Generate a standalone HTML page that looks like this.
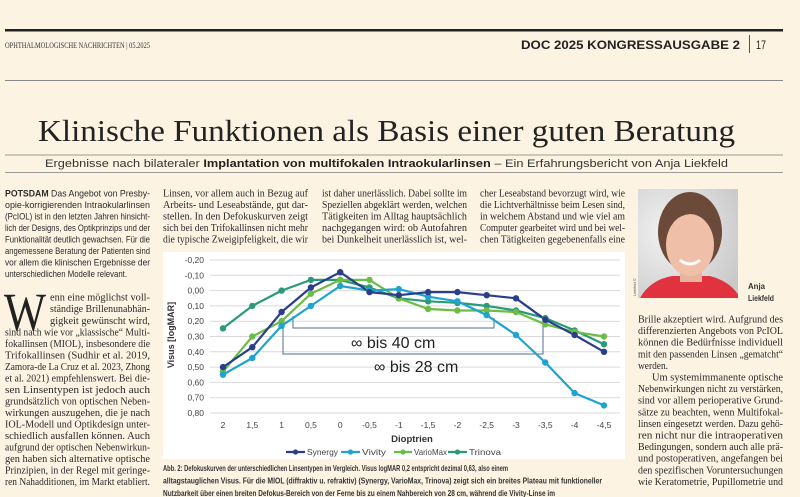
<!DOCTYPE html>
<html><head><meta charset="utf-8"><style>
html,body{margin:0;padding:0;background:#fdf3e3;}
svg{display:block}
.s{font-family:"Liberation Serif",serif;font-size:10px;fill:#2a2a2a}
.a{font-family:"Liberation Sans",sans-serif;font-size:9.5px;fill:#2a2a2a}
.c{font-family:"Liberation Sans",sans-serif;font-size:8.5px;font-weight:bold;fill:#333}
.t{font-family:"Liberation Sans",sans-serif;font-size:8.5px;fill:#444}
</style></head><body>
<svg width="800" height="497" viewBox="0 0 800 497" xmlns="http://www.w3.org/2000/svg">
<rect width="800" height="497" fill="#fdf3e3"/>
<!-- header -->
<rect x="5" y="29" width="778" height="2.5" fill="#222"/>
<text x="5" y="48" font-family="Liberation Serif,serif" font-size="8" fill="#333" textLength="145" lengthAdjust="spacingAndGlyphs">OPHTHALMOLOGISCHE NACHRICHTEN  |  05.2025</text>
<text x="521" y="49" font-family="Liberation Sans,sans-serif" font-size="11.5" font-weight="bold" fill="#222" textLength="219" lengthAdjust="spacingAndGlyphs">DOC 2025 KONGRESSAUSGABE 2</text>
<rect x="749" y="35" width="1" height="18" fill="#555"/>
<text x="756" y="49" font-family="Liberation Sans,sans-serif" font-size="11.5" fill="#222" textLength="10" lengthAdjust="spacingAndGlyphs">17</text>
<rect x="5" y="80" width="778" height="1" fill="#888"/>
<!-- title -->
<text x="38" y="141" font-family="Liberation Serif,serif" font-size="31" fill="#222" textLength="697" lengthAdjust="spacingAndGlyphs">Klinische Funktionen als Basis einer guten Beratung</text>
<rect x="5" y="154.5" width="778" height="1" fill="#999"/>
<text x="45" y="167" font-family="Liberation Sans,sans-serif" font-size="11" fill="#333" textLength="683" lengthAdjust="spacingAndGlyphs">Ergebnisse nach bilateraler <tspan font-weight="bold" fill="#222">Implantation von multifokalen Intraokularlinsen</tspan> – Ein Erfahrungsbericht von Anja Liekfeld</text>
<rect x="5" y="172" width="778" height="1" fill="#999"/>

<!-- col1 intro -->
<g class="a">
<text x="5" y="196.5" textLength="145" lengthAdjust="spacingAndGlyphs"><tspan font-weight="bold">POTSDAM</tspan>  Das Angebot von Presby-</text>
<text x="5" y="208" textLength="145" lengthAdjust="spacingAndGlyphs">opie-korrigierenden  Intraokularlinsen</text>
<text x="5" y="219.5" textLength="145" lengthAdjust="spacingAndGlyphs">(PcIOL) ist in den letzten Jahren hinsicht-</text>
<text x="5" y="231" textLength="145" lengthAdjust="spacingAndGlyphs">lich der Designs, des Optikprinzips und der</text>
<text x="5" y="242.5" textLength="145" lengthAdjust="spacingAndGlyphs">Funktionalität deutlich gewachsen. Für die</text>
<text x="5" y="254" textLength="145" lengthAdjust="spacingAndGlyphs">angemessene Beratung der Patienten sind</text>
<text x="5" y="265.5" textLength="145" lengthAdjust="spacingAndGlyphs">vor allem die klinischen Ergebnisse der</text>
<text x="5" y="277" textLength="122" lengthAdjust="spacingAndGlyphs">unterschiedlichen Modelle relevant.</text>
</g>
<!-- col1 body -->
<text x="4" y="330" font-family="Liberation Serif,serif" font-size="54" fill="#222" textLength="42" lengthAdjust="spacingAndGlyphs">W</text>
<g class="s">
<text x="50" y="300.5" textLength="100" lengthAdjust="spacingAndGlyphs">enn eine möglichst voll-</text>
<text x="50" y="312" textLength="100" lengthAdjust="spacingAndGlyphs">ständige Brillenunabhän-</text>
<text x="50" y="324" textLength="100" lengthAdjust="spacingAndGlyphs">gigkeit gewünscht wird,</text>
<text x="5" y="335.5" textLength="145" lengthAdjust="spacingAndGlyphs">sind nach wie vor „klassische“ Multi-</text>
<text x="5" y="347" textLength="145" lengthAdjust="spacingAndGlyphs">fokallinsen (MIOL), insbesondere die</text>
<text x="5" y="358.5" textLength="145" lengthAdjust="spacingAndGlyphs">Trifokallinsen (Sudhir et al. 2019,</text>
<text x="5" y="370" textLength="145" lengthAdjust="spacingAndGlyphs">Zamora-de La Cruz et al. 2023, Zhong</text>
<text x="5" y="381.5" textLength="145" lengthAdjust="spacingAndGlyphs">et al. 2021) empfehlenswert. Bei die-</text>
<text x="5" y="393" textLength="145" lengthAdjust="spacingAndGlyphs">sen  Linsentypen  ist  jedoch  auch</text>
<text x="5" y="404.5" textLength="145" lengthAdjust="spacingAndGlyphs">grundsätzlich von optischen Neben-</text>
<text x="5" y="416" textLength="145" lengthAdjust="spacingAndGlyphs">wirkungen auszugehen, die je nach</text>
<text x="5" y="427.5" textLength="145" lengthAdjust="spacingAndGlyphs">IOL-Modell und Optikdesign unter-</text>
<text x="5" y="439" textLength="145" lengthAdjust="spacingAndGlyphs">schiedlich ausfallen können. Auch</text>
<text x="5" y="450.5" textLength="145" lengthAdjust="spacingAndGlyphs">aufgrund der optischen Nebenwirkun-</text>
<text x="5" y="462" textLength="145" lengthAdjust="spacingAndGlyphs">gen haben sich alternative optische</text>
<text x="5" y="473.5" textLength="145" lengthAdjust="spacingAndGlyphs">Prinzipien, in der Regel mit geringe-</text>
<text x="5" y="485" textLength="145" lengthAdjust="spacingAndGlyphs">ren Nahadditionen, im Markt etabliert.</text>
</g>
<!-- top columns -->
<g class="s">
<text x="163" y="196.5" textLength="145" lengthAdjust="spacingAndGlyphs">Linsen, vor allem auch in Bezug auf</text>
<text x="163" y="208" textLength="145" lengthAdjust="spacingAndGlyphs">Arbeits- und Leseabstände, gut dar-</text>
<text x="163" y="219.5" textLength="145" lengthAdjust="spacingAndGlyphs">stellen. In den Defokuskurven zeigt</text>
<text x="163" y="231" textLength="145" lengthAdjust="spacingAndGlyphs">sich bei den Trifokallinsen nicht mehr</text>
<text x="163" y="242.5" textLength="145" lengthAdjust="spacingAndGlyphs">die typische Zweigipfeligkeit, die wir</text>
<text x="322" y="196.5" textLength="145" lengthAdjust="spacingAndGlyphs">ist daher unerlässlich. Dabei sollte im</text>
<text x="322" y="208" textLength="145" lengthAdjust="spacingAndGlyphs">Speziellen abgeklärt werden, welchen</text>
<text x="322" y="219.5" textLength="145" lengthAdjust="spacingAndGlyphs">Tätigkeiten im Alltag hauptsächlich</text>
<text x="322" y="231" textLength="145" lengthAdjust="spacingAndGlyphs">nachgegangen wird: ob Autofahren</text>
<text x="322" y="242.5" textLength="145" lengthAdjust="spacingAndGlyphs">bei Dunkelheit unerlässlich ist, wel-</text>
<text x="480" y="196.5" textLength="145" lengthAdjust="spacingAndGlyphs">cher Leseabstand bevorzugt wird, wie</text>
<text x="480" y="208" textLength="145" lengthAdjust="spacingAndGlyphs">die Lichtverhältnisse beim Lesen sind,</text>
<text x="480" y="219.5" textLength="145" lengthAdjust="spacingAndGlyphs">in welchem Abstand und wie viel am</text>
<text x="480" y="231" textLength="145" lengthAdjust="spacingAndGlyphs">Computer gearbeitet wird und bei wel-</text>
<text x="480" y="242.5" textLength="145" lengthAdjust="spacingAndGlyphs">chen Tätigkeiten gegebenenfalls eine</text>
</g>
<!-- right column -->
<g class="s">
<text x="638" y="322.5" textLength="145" lengthAdjust="spacingAndGlyphs">Brille akzeptiert wird. Aufgrund des</text>
<text x="638" y="334.1" textLength="145" lengthAdjust="spacingAndGlyphs">differenzierten Angebots von PcIOL</text>
<text x="638" y="345.7" textLength="145" lengthAdjust="spacingAndGlyphs">können die Bedürfnisse individuell</text>
<text x="638" y="357.3" textLength="145" lengthAdjust="spacingAndGlyphs">mit den passenden Linsen „gematcht“</text>
<text x="638" y="368.9" textLength="30" lengthAdjust="spacingAndGlyphs">werden.</text>
<text x="652" y="380.5" textLength="131" lengthAdjust="spacingAndGlyphs">Um  systemimmanente  optische</text>
<text x="638" y="392.1" textLength="145" lengthAdjust="spacingAndGlyphs">Nebenwirkungen nicht zu verstärken,</text>
<text x="638" y="403.7" textLength="145" lengthAdjust="spacingAndGlyphs">sind vor allem perioperative Grund-</text>
<text x="638" y="415.3" textLength="145" lengthAdjust="spacingAndGlyphs">sätze zu beachten, wenn Multifokal-</text>
<text x="638" y="426.9" textLength="145" lengthAdjust="spacingAndGlyphs">linsen eingesetzt werden. Dazu gehö-</text>
<text x="638" y="438.5" textLength="145" lengthAdjust="spacingAndGlyphs">ren nicht nur die intraoperativen</text>
<text x="638" y="450.1" textLength="145" lengthAdjust="spacingAndGlyphs">Bedingungen, sondern auch alle prä-</text>
<text x="638" y="461.7" textLength="145" lengthAdjust="spacingAndGlyphs">und postoperativen, angefangen bei</text>
<text x="638" y="473.3" textLength="145" lengthAdjust="spacingAndGlyphs">den spezifischen Voruntersuchungen</text>
<text x="638" y="484.9" textLength="145" lengthAdjust="spacingAndGlyphs">wie Keratometrie, Pupillometrie und</text>
</g>
<!-- photo -->
<defs><clipPath id="ph"><rect x="638" y="189" width="100" height="109"/></clipPath>
<radialGradient id="bg" cx="0.3" cy="0.4" r="0.8"><stop offset="0" stop-color="#f2f2f2"/><stop offset="1" stop-color="#c9c9c9"/></radialGradient></defs>
<g clip-path="url(#ph)">
<rect x="638" y="189" width="100" height="109" fill="url(#bg)"/>
<ellipse cx="690" cy="232" rx="32" ry="40" fill="#6b4a3a"/>
<path d="M640 298 Q650 280 672 276 L710 276 Q732 282 740 298 Z" fill="#e0333f"/>
<rect x="680" y="262" width="22" height="20" fill="#e9b39c"/>
<ellipse cx="690" cy="245" rx="24" ry="31" fill="#efbfa8"/>
<path d="M664 236 Q668 200 692 203 Q716 205 716 236 Q710 214 690 214 Q672 216 664 236 Z" fill="#6b4a3a"/>
<path d="M680 260 Q690 268 700 260" stroke="#fff" stroke-width="3" fill="none"/>
</g>
<text transform="translate(636,296) rotate(-90)" font-family="Liberation Sans,sans-serif" font-size="4" fill="#555">Liekfeld ©</text>
<text x="748" y="289" class="c" font-size="8.5" textLength="17" lengthAdjust="spacingAndGlyphs">Anja</text>
<text x="748" y="301" class="c" font-size="8.5" textLength="26" lengthAdjust="spacingAndGlyphs">Liekfeld</text>

<!-- chart -->
<rect x="163" y="252" width="462" height="207" fill="#fff"/>
<g stroke="#d9d9d9" stroke-width="1">
<line x1="210" x2="620" y1="260" y2="260"/><line x1="210" x2="620" y1="275.3" y2="275.3"/><line x1="210" x2="620" y1="290.6" y2="290.6"/><line x1="210" x2="620" y1="305.9" y2="305.9"/><line x1="210" x2="620" y1="321.2" y2="321.2"/><line x1="210" x2="620" y1="336.5" y2="336.5"/><line x1="210" x2="620" y1="351.8" y2="351.8"/><line x1="210" x2="620" y1="367.1" y2="367.1"/><line x1="210" x2="620" y1="382.4" y2="382.4"/><line x1="210" x2="620" y1="397.7" y2="397.7"/><line x1="210" x2="620" y1="413" y2="413"/>
</g>
<g class="t" text-anchor="end">
<text x="204" y="263">-0,20</text><text x="204" y="278.3">-0,10</text><text x="204" y="293.6">0,00</text><text x="204" y="308.9">0,10</text><text x="204" y="324.2">0,20</text><text x="204" y="339.5">0,30</text><text x="204" y="354.8">0,40</text><text x="204" y="370.1">0,50</text><text x="204" y="385.4">0,60</text><text x="204" y="400.7">0,70</text><text x="204" y="416">0,80</text>
</g>
<g class="t" text-anchor="middle">
<text x="223" y="428">2</text><text x="252.3" y="428">1,5</text><text x="281.6" y="428">1</text><text x="310.9" y="428">0,5</text><text x="340.2" y="428">0</text><text x="369.5" y="428">-0,5</text><text x="398.8" y="428">-1</text><text x="428.1" y="428">-1,5</text><text x="457.4" y="428">-2</text><text x="486.7" y="428">-2,5</text><text x="516" y="428">-3</text><text x="545.3" y="428">-3,5</text><text x="574.6" y="428">-4</text><text x="604" y="428">-4,5</text>
</g>
<text x="412" y="442" text-anchor="middle" font-family="Liberation Sans,sans-serif" font-size="9.5" font-weight="bold" fill="#333">Dioptrien</text>
<text transform="translate(174,335) rotate(-90)" text-anchor="middle" font-family="Liberation Sans,sans-serif" font-size="9" font-weight="bold" fill="#333">Visus [logMAR]</text>
<!-- brackets -->
<g stroke="#4d6f8f" stroke-width="1" fill="none">
<polyline points="293,316 293,328 494,328 494,318"/>
<polyline points="283,326 283,354 543,354 543,322"/>
</g>
<text x="351" y="348" font-family="Liberation Sans,sans-serif" font-size="16" fill="#222">∞ bis 40 cm</text>
<text x="374" y="372" font-family="Liberation Sans,sans-serif" font-size="16" fill="#222">∞ bis 28 cm</text>
<!-- series -->
<g fill="none" stroke-width="2.2" stroke-linejoin="round">
<polyline stroke="#2a9a78" points="223,328.3 252.3,305.9 281.6,290.6 310.9,279.9 340.2,279.9 369.5,287.5 398.8,298.3 428.1,301.3 457.4,302.8 486.7,305.9 516,310.5 545.3,318.1 574.6,330.4 604,344.2"/>
<polyline stroke="#6cbd45" points="223,371.7 252.3,336.5 281.6,321.2 310.9,293.7 340.2,279.9 369.5,279.9 398.8,298.3 428.1,309 457.4,310.5 486.7,310.5 516,312 545.3,324.3 574.6,331.9 604,336.5"/>
<polyline stroke="#1fa3d0" points="223,374.7 252.3,358 281.6,325.8 310.9,305.9 340.2,286 369.5,290.6 398.8,289.1 428.1,296.7 457.4,301.3 486.7,315.1 516,335 545.3,362.5 574.6,393.1 604,405.4"/>
<polyline stroke="#2b3e8c" points="223,367.1 252.3,347.2 281.6,312 310.9,287.5 340.2,272.2 369.5,292.1 398.8,295.2 428.1,292.1 457.4,292.1 486.7,295.2 516,298.3 545.3,319.7 574.6,335 604,351.8"/>
</g>
<g fill="#2a9a78"><circle cx="223" cy="328.3" r="3.2"/><circle cx="252.3" cy="305.9" r="3.2"/><circle cx="281.6" cy="290.6" r="3.2"/><circle cx="310.9" cy="279.9" r="3.2"/><circle cx="340.2" cy="279.9" r="3.2"/><circle cx="369.5" cy="287.5" r="3.2"/><circle cx="398.8" cy="298.3" r="3.2"/><circle cx="428.1" cy="301.3" r="3.2"/><circle cx="457.4" cy="302.8" r="3.2"/><circle cx="486.7" cy="305.9" r="3.2"/><circle cx="516" cy="310.5" r="3.2"/><circle cx="545.3" cy="318.1" r="3.2"/><circle cx="574.6" cy="330.4" r="3.2"/><circle cx="604" cy="344.2" r="3.2"/></g>
<g fill="#6cbd45"><circle cx="223" cy="371.7" r="3.2"/><circle cx="252.3" cy="336.5" r="3.2"/><circle cx="281.6" cy="321.2" r="3.2"/><circle cx="310.9" cy="293.7" r="3.2"/><circle cx="340.2" cy="279.9" r="3.2"/><circle cx="369.5" cy="279.9" r="3.2"/><circle cx="398.8" cy="298.3" r="3.2"/><circle cx="428.1" cy="309" r="3.2"/><circle cx="457.4" cy="310.5" r="3.2"/><circle cx="486.7" cy="310.5" r="3.2"/><circle cx="516" cy="312" r="3.2"/><circle cx="545.3" cy="324.3" r="3.2"/><circle cx="574.6" cy="331.9" r="3.2"/><circle cx="604" cy="336.5" r="3.2"/></g>
<g fill="#1fa3d0"><circle cx="223" cy="374.7" r="3.2"/><circle cx="252.3" cy="358" r="3.2"/><circle cx="281.6" cy="325.8" r="3.2"/><circle cx="310.9" cy="305.9" r="3.2"/><circle cx="340.2" cy="286" r="3.2"/><circle cx="369.5" cy="290.6" r="3.2"/><circle cx="398.8" cy="289.1" r="3.2"/><circle cx="428.1" cy="296.7" r="3.2"/><circle cx="457.4" cy="301.3" r="3.2"/><circle cx="486.7" cy="315.1" r="3.2"/><circle cx="516" cy="335" r="3.2"/><circle cx="545.3" cy="362.5" r="3.2"/><circle cx="574.6" cy="393.1" r="3.2"/><circle cx="604" cy="405.4" r="3.2"/></g>
<g fill="#2b3e8c"><circle cx="223" cy="367.1" r="3.2"/><circle cx="252.3" cy="347.2" r="3.2"/><circle cx="281.6" cy="312" r="3.2"/><circle cx="310.9" cy="287.5" r="3.2"/><circle cx="340.2" cy="272.2" r="3.2"/><circle cx="369.5" cy="292.1" r="3.2"/><circle cx="398.8" cy="295.2" r="3.2"/><circle cx="428.1" cy="292.1" r="3.2"/><circle cx="457.4" cy="292.1" r="3.2"/><circle cx="486.7" cy="295.2" r="3.2"/><circle cx="516" cy="298.3" r="3.2"/><circle cx="545.3" cy="319.7" r="3.2"/><circle cx="574.6" cy="335" r="3.2"/><circle cx="604" cy="351.8" r="3.2"/></g>
<!-- legend -->
<g stroke-width="2.2">
<line x1="286" x2="305" y1="452" y2="452" stroke="#2b3e8c"/><circle cx="295.5" cy="452" r="2.6" fill="#2b3e8c"/>
<line x1="341" x2="360" y1="452" y2="452" stroke="#1fa3d0"/><circle cx="350.5" cy="452" r="2.6" fill="#1fa3d0"/>
<line x1="394" x2="412" y1="452" y2="452" stroke="#6cbd45"/><circle cx="403" cy="452" r="2.6" fill="#6cbd45"/>
<line x1="448" x2="467" y1="452" y2="452" stroke="#2a9a78"/><circle cx="457.5" cy="452" r="2.6" fill="#2a9a78"/>
</g>
<g class="t" font-size="8.5">
<text x="307" y="455" textLength="31" lengthAdjust="spacingAndGlyphs">Synergy</text>
<text x="362" y="455" textLength="24" lengthAdjust="spacingAndGlyphs">Vivity</text>
<text x="414" y="455" textLength="33" lengthAdjust="spacingAndGlyphs">VarioMax</text>
<text x="469" y="455" textLength="32" lengthAdjust="spacingAndGlyphs">Trinova</text>
</g>
<!-- caption -->
<g class="c">
<text x="163" y="471" textLength="345" lengthAdjust="spacingAndGlyphs">Abb. 2: Defokuskurven der unterschiedlichen Linsentypen im Vergleich. Visus logMAR 0,2 entspricht dezimal 0,63, also einem</text>
<text x="163" y="483.5" textLength="439" lengthAdjust="spacingAndGlyphs">alltagstauglichen Visus. Für die MIOL (diffraktiv u. refraktiv) (Synergy, VarioMax, Trinova) zeigt sich ein breites Plateau mit funktioneller</text>
<text x="163" y="496" textLength="392" lengthAdjust="spacingAndGlyphs">Nutzbarkeit über einen breiten Defokus-Bereich von der Ferne bis zu einem Nahbereich von 28 cm, während die Vivity-Linse im</text>
</g>
</svg>
</body></html>
